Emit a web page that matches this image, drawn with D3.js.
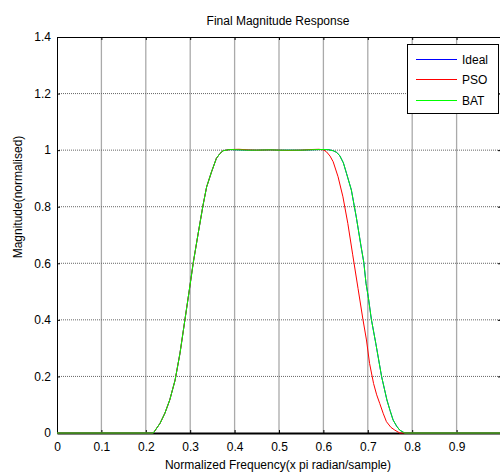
<!DOCTYPE html>
<html>
  <head>
    <script src="https://d3js.org/d3.v7.min.js"></script>
    <style type="text/css">
body {
  margin: 0;
  background: #fff;
}
svg text {
  font-family: "Liberation Sans", Arial, sans-serif;
  font-size: 12px;
  fill: #000;
}
    </style>
  </head>
  <body>
    <svg id="chart" width="500" height="472"></svg>
    <script type="text/javascript">
// values
var xTicks = [0, 0.1, 0.2, 0.3, 0.4, 0.5, 0.6, 0.7, 0.8, 0.9, 1];
var xTickLabels = ["0", "0.1", "0.2", "0.3", "0.4", "0.5", "0.6", "0.7", "0.8", "0.9", ""];
var yTicks = [0, 0.2, 0.4, 0.6, 0.8, 1, 1.2, 1.4];
var yTickLabels = ["0", "0.2", "0.4", "0.6", "0.8", "1", "1.2", "1.4"];

var seriesNames = ["Ideal", "PSO", "BAT"];
var seriesColors = ["#0000ff", "#ff0000", "#00ff00"];

var psoFreq = [0, 0.217, 0.232, 0.243, 0.254, 0.266, 0.277, 0.288, 0.298, 0.307, 0.318, 0.329, 0.337, 0.348, 0.359, 0.367, 0.374, 0.389,
  0.41, 0.43, 0.45, 0.48, 0.5, 0.52, 0.55, 0.57, 0.59, 0.6, 0.607, 0.615, 0.622, 0.633, 0.644, 0.655, 0.666, 0.678, 0.689, 0.697,
  0.704, 0.713, 0.72, 0.727, 0.735, 0.742, 0.752, 0.761, 0.772, 1];
var psoMag = [0, 0, 0.034, 0.07, 0.117, 0.187, 0.282, 0.399, 0.505, 0.603, 0.706, 0.806, 0.87, 0.923, 0.971, 0.988, 0.998, 1.002,
  1.003, 1.001, 1.0, 1.001, 1.0, 0.999, 1.0, 1.002, 1.003, 1.001, 0.994, 0.979, 0.959, 0.906, 0.835, 0.741, 0.63, 0.511, 0.402, 0.329,
  0.246, 0.175, 0.135, 0.104, 0.068, 0.04, 0.02, 0.01, 0, 0];

var batFreq = [0, 0.217, 0.232, 0.243, 0.254, 0.266, 0.277, 0.288, 0.298, 0.307, 0.318, 0.329, 0.337, 0.348, 0.359, 0.367, 0.374, 0.389,
  0.41, 0.43, 0.45, 0.48, 0.5, 0.52, 0.55, 0.57, 0.59, 0.61, 0.622, 0.63, 0.637, 0.645, 0.652, 0.663, 0.674, 0.685, 0.691, 0.696, 0.701,
  0.708, 0.718, 0.731, 0.743, 0.75, 0.757, 0.765, 0.772, 0.783, 1];
var batMag = [0, 0, 0.034, 0.07, 0.117, 0.187, 0.282, 0.399, 0.505, 0.603, 0.706, 0.806, 0.87, 0.923, 0.971, 0.988, 0.998, 1.002,
  1.001, 1.0, 1.0, 1.001, 1.0, 1.0, 1.0, 1.001, 1.002, 1.002, 0.998, 0.992, 0.98, 0.955, 0.918, 0.859, 0.764, 0.658, 0.603, 0.529, 0.482,
  0.402, 0.317, 0.2, 0.117, 0.08, 0.046, 0.024, 0.01, 0, 0];

// ideal response sits under the other two curves (not visible in the picture)
var idealFreq = batFreq;
var idealMag = batMag;

var svg = d3.select("#chart");

var x = d3.scaleLinear().domain([0, 1]).range([57, 501]);
var y = d3.scaleLinear().domain([0, 1.4]).range([433, 37]);

// grid
svg.append("g").selectAll("line")
    .data(xTicks.slice(1, -1))
  .enter().append("line")
    .attr("x1", function(d) { return x(d); })
    .attr("x2", function(d) { return x(d); })
    .attr("y1", y(0))
    .attr("y2", y(1.4))
    .attr("stroke", "#aaa")
    .attr("stroke-width", 1.3);

svg.append("g").selectAll("line")
    .data(yTicks.slice(1, -1))
  .enter().append("line")
    .attr("x1", x(0))
    .attr("x2", x(1))
    .attr("y1", function(d) { return y(d); })
    .attr("y2", function(d) { return y(d); })
    .attr("stroke", "#666")
    .attr("stroke-width", 1)
    .attr("stroke-dasharray", "1,1");

// axes (ticks point inwards, like matlab)
var bottom = svg.append("g")
    .attr("transform", "translate(0," + y(0) + ")")
    .call(d3.axisBottom(x).tickValues(xTicks).tickSizeInner(-3).tickSizeOuter(0).tickPadding(9)
      .tickFormat(function(d, i) { return xTickLabels[i]; }));

var top = svg.append("g")
    .attr("transform", "translate(0," + y(1.4) + ")")
    .call(d3.axisTop(x).tickValues(xTicks).tickSizeInner(-3).tickSizeOuter(0).tickFormat(""));

var left = svg.append("g")
    .attr("transform", "translate(" + x(0) + ",0)")
    .call(d3.axisLeft(y).tickValues(yTicks).tickSizeInner(-3).tickSizeOuter(0).tickPadding(6)
      .tickFormat(function(d, i) { return yTickLabels[i]; }));

var right = svg.append("g")
    .attr("transform", "translate(" + x(1) + ",0)")
    .call(d3.axisRight(y).tickValues(yTicks).tickSizeInner(-3).tickSizeOuter(0).tickFormat(""));

svg.selectAll(".domain").attr("stroke", "#000");
bottom.select(".domain").attr("stroke-width", 2);
svg.selectAll(".tick line").attr("stroke", "#000");
svg.selectAll(".tick text").style("font-size", "12px").attr("font-family", null);

// curves
var line = d3.line()
    .x(function(d) { return x(d[0]); })
    .y(function(d) { return y(d[1]); });

var series = [
  d3.zip(idealFreq, idealMag),
  d3.zip(psoFreq, psoMag),
  d3.zip(batFreq, batMag)
];

svg.append("g").selectAll("path")
    .data(series)
  .enter().append("path")
    .attr("d", line)
    .attr("fill", "none")
    .attr("stroke", function(d, i) { return seriesColors[i]; })
    .attr("stroke-width", 1);

// titles
svg.append("text")
    .attr("x", 278)
    .attr("y", 25)
    .attr("text-anchor", "middle")
    .text("Final Magnitude Response");

svg.append("text")
    .attr("x", 278)
    .attr("y", 469)
    .attr("text-anchor", "middle")
    .text("Normalized Frequency(x pi radian/sample)");

svg.append("text")
    .attr("transform", "translate(22,197) rotate(-90)")
    .attr("text-anchor", "middle")
    .text("Magnitude(normalised)");

// legend
var legend = svg.append("g");
legend.append("rect")
    .attr("x", 407.5)
    .attr("y", 44.5)
    .attr("width", 91)
    .attr("height", 69)
    .attr("fill", "#fff")
    .attr("stroke", "#000");

var legendY = [59.5, 79.5, 100.5];
var item = legend.selectAll("g.item")
    .data(seriesNames)
  .enter().append("g")
    .attr("class", "item")
    .attr("transform", function(d, i) { return "translate(0," + legendY[i] + ")"; });

item.append("line")
    .attr("x1", 416)
    .attr("x2", 457)
    .attr("stroke", function(d) { return seriesColors[seriesNames.indexOf(d)]; });

item.append("text")
    .attr("x", 462)
    .attr("dy", "0.35em")
    .text(function(d) { return d; });
    </script>
  </body>
</html>
